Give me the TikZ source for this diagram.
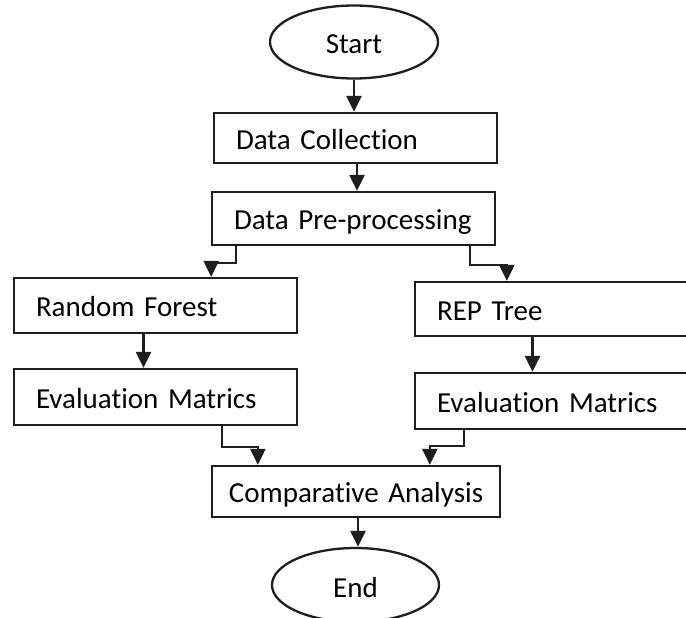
\documentclass[tikz,border=0pt]{standalone}
\usepackage{fontspec}
\setmainfont{Carlito}[Ligatures=CommonOff]
\usepackage{tikz}
\usetikzlibrary{shapes.geometric, arrows.meta, positioning, calc}
\definecolor{inkgray}{RGB}{30, 30, 30}

\begin{document}
\begin{tikzpicture}[x=1pt, y=-1pt,
    flowbox/.style={draw=inkgray, line width=2.3pt, rectangle, inner xsep=22pt, inner ysep=0pt,
          text width=#1, align=left, text height=22pt, text depth=0pt,
          font=\fontsize{29}{34}\selectfont},
    flowbox/.default=239pt,
    terminal/.style={draw=inkgray, line width=2.3pt, ellipse, inner sep=0pt,
          text height=24pt, text depth=0pt, font=\fontsize{29}{34}\selectfont},
    flowarrow/.style={draw=inkgray, line width=2.3pt, -{Triangle[length=16pt, width=15pt]}}]
    \useasboundingbox[fill=white] (0,0) rectangle (686,618);

    \node[terminal, minimum width=168pt, minimum height=73pt] (start) at (354,42) {Start};
    \node[flowbox, minimum height=50pt] (collect) at (355.5,138) {Data Collection};
    \node[flowbox, minimum height=53pt] (preproc) at (353.5,218.5) {Data Pre-processing};
    \node[flowbox, minimum height=55pt] (forest) at (155.5,305.5) {Random Forest};
    \node[flowbox, minimum height=56pt] (evalleft) at (155.5,397) {Evaluation Matrics};
    \node[flowbox, minimum height=54pt] (reptree) at (556.5,309) {REP Tree};
    \node[flowbox, minimum height=56pt] (evalright) at (556.5,401) {Evaluation Matrics};
    \node[flowbox=268pt, inner xsep=10pt, align=center, minimum height=51pt] (compare) at (356,491.5) {Comparative Analysis};
    \node[terminal, minimum width=167pt, minimum height=74pt] (end) at (355.5,585) {End};

    \draw[flowarrow] (start.south) -- (start.south |- collect.north);
    \draw[flowarrow] ([xshift=1.5pt]collect.south) -- ([xshift=1.5pt]collect.south |- preproc.north);
    \draw[flowarrow] ([xshift=25pt]preproc.south west) -- ++(0,17) -| ([xshift=-87pt]forest.north east);
    \draw[flowarrow] ([xshift=-26pt]preproc.south east) -- ++(0,19) -| ([xshift=93pt]reptree.north west);
    \draw[flowarrow] ([xshift=-12pt]forest.south) -- ([xshift=-12pt]evalleft.north);
    \draw[flowarrow] ([xshift=-24pt]reptree.south) -- ([xshift=-24pt]evalright.north);
    \draw[flowarrow] ([xshift=-76pt]evalleft.south east) -- ++(0,21) -| ([xshift=47pt]compare.north west);
    \draw[flowarrow] ([xshift=50pt]evalright.south west) -- ++(0,16) -| ([xshift=219pt]compare.north west);
    \draw[flowarrow] ([xshift=2pt]compare.south) -- ([xshift=2pt]compare.south |- end.north);
\end{tikzpicture}
\end{document}
